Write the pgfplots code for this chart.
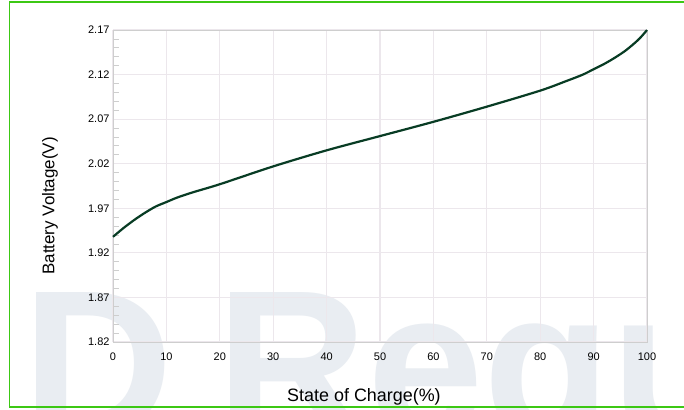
\documentclass[border=0pt]{standalone}
\usepackage{pgfplots}
\pgfplotsset{compat=1.18}
\usepackage{fontspec}
\setmainfont{Liberation Sans}
\definecolor{frame}{RGB}{60,200,20}
\definecolor{curve}{RGB}{8,60,36}
\definecolor{gridc}{RGB}{236,231,236}
\definecolor{axc}{RGB}{206,206,206}
\definecolor{wm}{RGB}{233,237,242}
\begin{document}
\begin{tikzpicture}[x=1bp,y=1bp]
\useasboundingbox (0,0) rectangle (684,409);
\fill[white] (0,0) rectangle (684,409);
% watermark
\node[anchor=base west, inner sep=0pt, text=wm, font=\fontsize{210}{210}\selectfont\bfseries] at (22,-27) {D};
\node[anchor=base west, inner sep=0pt, text=wm, font=\fontsize{210}{210}\selectfont\bfseries] at (216,-27) {Regu};
% frame
\draw[frame, line width=1.6bp] (684,407) -- (9.5,407) -- (9.5,2) -- (684,2);
\begin{axis}[
  at={(113bp,67bp)}, anchor=south west,
  scale only axis, width=534bp, height=312bp,
  xmin=0, xmax=100, ymin=1.82, ymax=2.17,
  xtick={0,10,...,100},
  ytick={1.82,1.87,...,2.17},
  yticklabels={1.82,1.87,1.92,1.97,2.02,2.07,2.12,2.17},
  minor y tick num=4,
  grid=major,
  major grid style={gridc, line width=1.2bp},
  axis line style={axc, line width=1bp},
  tick style={axc, line width=0.8bp},
  major tick length=0pt,
  minor tick length=6bp,
  xtick pos=bottom, ytick pos=left,
  tick align=inside,
  every x tick label/.style={font=\fontsize{11}{11}\selectfont, yshift=-7bp},
  every y tick label/.style={font=\fontsize{11}{11}\selectfont},
  /pgf/number format/assume math mode=true,
  xlabel={State of Charge(\%)},
  ylabel={Battery Voltage(V)},
  xlabel style={font=\fontsize{18}{18}\selectfont, at={(axis description cs:0.47,-0.192)}, anchor=base},
  ylabel style={font=\fontsize{17}{17}\selectfont, at={(axis description cs:-0.118,0.436)}, anchor=center},
  clip=false,
]
\addplot[curve, line width=2.2bp, smooth, tension=0.5] coordinates {
(0,1.938) (2,1.948) (4,1.957) (6,1.965) (8,1.972) (10,1.977) (12,1.982) (15,1.988)
(20,1.997) (30,2.017) (40,2.035) (50,2.051) (60,2.067) (70,2.084)
(80,2.102) (85,2.113) (88,2.120) (90,2.126) (92,2.132) (94,2.139) (96,2.147) (98,2.157) (99,2.163) (100,2.170)
};
\end{axis}
\end{tikzpicture}
\end{document}
